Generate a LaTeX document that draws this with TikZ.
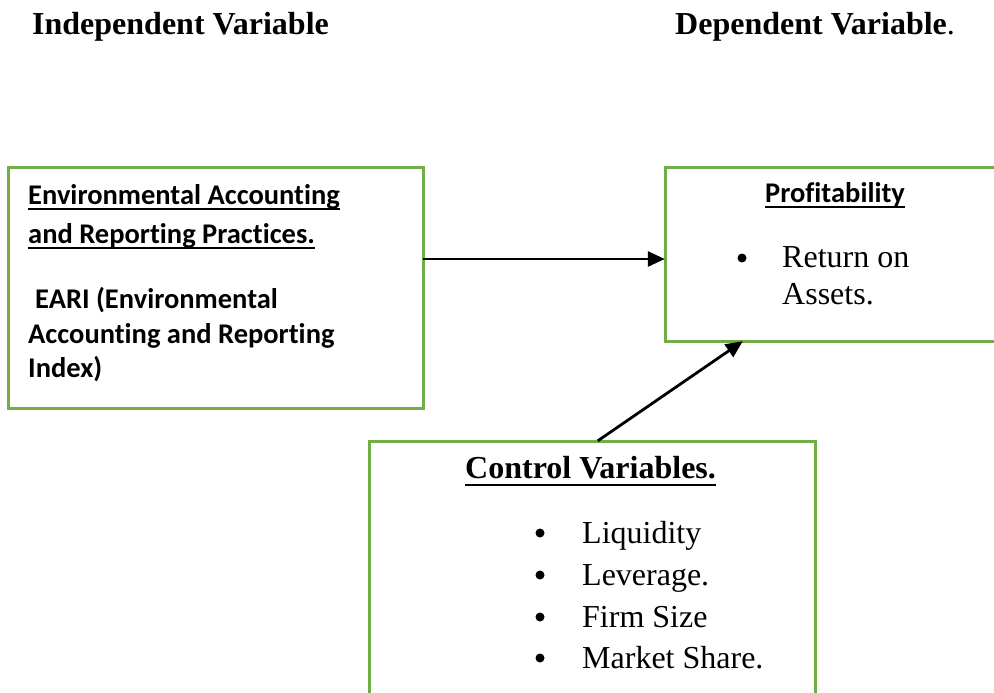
\documentclass[tikz,border=0pt]{standalone}
\usepackage{fontspec}
\setmainfont{Liberation Serif}
\newfontfamily\calib[Ligatures=CommonOff]{Carlito}
\usetikzlibrary{arrows.meta}
\definecolor{boxgreen}{RGB}{112,173,71}
\begin{document}
\begin{tikzpicture}[x=1pt,y=-1pt,
  frame/.style={draw=boxgreen, line width=3pt, inner sep=0pt},
  txt/.style={anchor=base west, inner sep=0pt, font=\fontsize{32}{36}\selectfont},
  ctxt/.style={anchor=base west, inner sep=0pt, font=\calib\bfseries\fontsize{28.5}{32}\selectfont},
  head/.style={anchor=base west, inner sep=0pt, font=\bfseries\fontsize{32}{36}\selectfont},
  bul/.style={circle, fill=black, inner sep=0pt, minimum size=9pt},
  uline/.style={line width=2.2pt},
  conn/.style={line width=2.8pt, -{Triangle[length=17pt,width=15pt]}}]
\useasboundingbox (0,0) rectangle (994,693);
\fill[white] (0,0) rectangle (994,693);

% boxes
\draw[frame] (8,167) rectangle (423,408);
\node (lbox) at (215.5,287.5) [minimum width=415pt, minimum height=241pt, inner sep=0pt] {};
\draw[frame] (665,167) rectangle (1010,341);
\node (rbox) at (837.5,254) [minimum width=345pt, minimum height=174pt, inner sep=0pt] {};
\draw[frame] (369,441) rectangle (815,720);
\node (bbox) at (592,580.5) [minimum width=446pt, minimum height=279pt, inner sep=0pt] {};

% headings
\node[head] (indep) at (32,35) {Independent Variable};
\node[head] (dep) at (675,35) {Dependent Variable\textmd{.}};

% left box text
\node[ctxt] (l1) at (28,204) {Environmental Accounting};
\node[ctxt] (l2) at (28,243) {and Reporting Practices.};
\node[ctxt] (l3) at (35,308) {EARI (Environmental};
\node[ctxt] (l4) at (28,343) {Accounting and Reporting};
\node[ctxt] (l5) at (28,377) {Index)};
\draw[uline] ([yshift=-5pt]l1.base west) -- ([yshift=-5pt]l1.base east);
\draw[uline] ([yshift=-5pt]l2.base west) -- ([yshift=-5pt]l2.base east);

% right box text
\node[ctxt] (p1) at (765,202) {Profitability};
\draw[uline] ([yshift=-5pt]p1.base west) -- ([yshift=-5pt]p1.base east);
\node[bul] (pb) at (742,258) {};
\node[txt] (p2) at (782,267) {Return on};
\node[txt] (p3) at (782,304) {Assets.};

% bottom box text
\node[head] (c1) at (465,478) {Control Variables.};
\draw[uline] ([yshift=-7pt]c1.base west) -- ([yshift=-7pt]c1.base east);
\node[bul] (b1) at (540,533) {};
\node[txt] (c2) at (582,543) {Liquidity};
\node[bul] (b2) at (540,575) {};
\node[txt] (c3) at (582,585) {Leverage.};
\node[bul] (b3) at (540,617) {};
\node[txt] (c4) at (582,627) {Firm Size};
\node[bul] (b4) at (540,658) {};
\node[txt] (c5) at (582,668) {Market Share.};

% connectors
\draw[conn] ([yshift=28.5pt]lbox.east) -- ([yshift=-5pt]rbox.west);
\draw[conn] ([xshift=229pt]bbox.north west) -- ([xshift=78pt]rbox.south west);
\end{tikzpicture}
\end{document}
